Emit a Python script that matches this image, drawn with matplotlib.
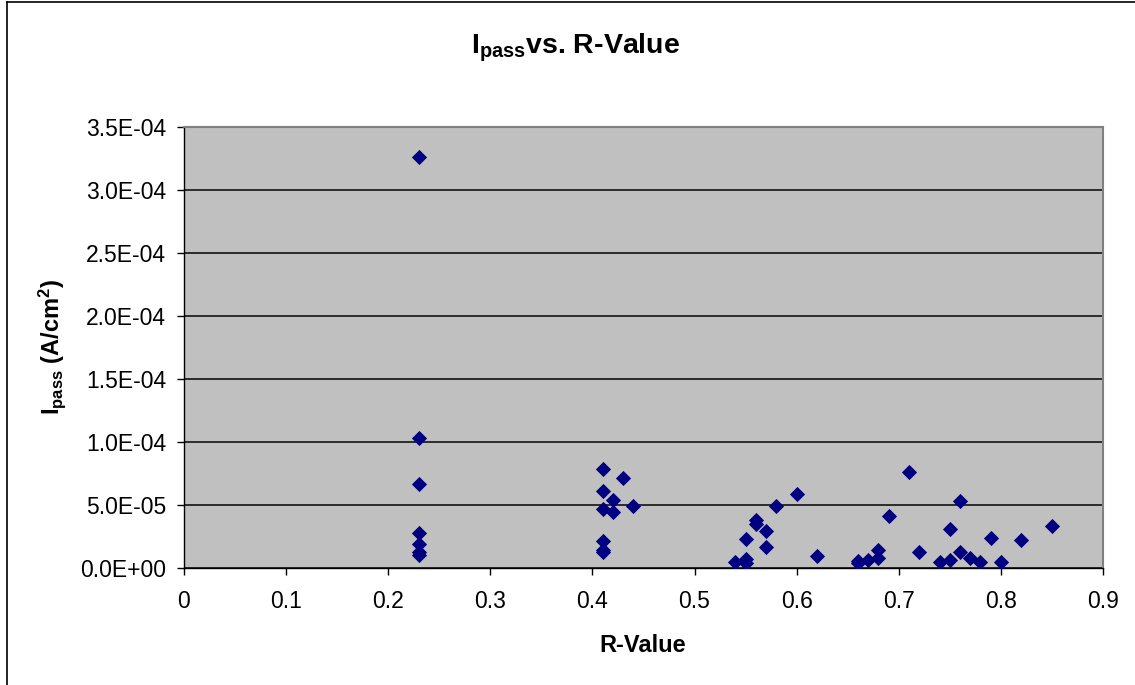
import matplotlib
matplotlib.use('Agg')
import matplotlib.pyplot as plt
from matplotlib.ticker import FuncFormatter, MultipleLocator
from matplotlib.lines import Line2D

plt.rcParams['font.family'] = ['Liberation Sans', 'DejaVu Sans']
plt.rcParams['mathtext.fontset'] = 'custom'
plt.rcParams['mathtext.rm'] = 'Liberation Sans'
plt.rcParams['mathtext.bf'] = 'Liberation Sans:bold'
plt.rcParams['mathtext.it'] = 'Liberation Sans:italic'

# R-value of each sample and its passivation current density (A/cm^2)
r_value = [0.23, 0.23, 0.23, 0.23, 0.23, 0.23, 0.23,
           0.41, 0.41, 0.41, 0.41, 0.41, 0.41,
           0.42, 0.42, 0.43, 0.44,
           0.54, 0.55, 0.55, 0.55, 0.56, 0.56, 0.57, 0.57, 0.58,
           0.60, 0.62, 0.66, 0.66, 0.67, 0.68, 0.68, 0.69,
           0.71, 0.72, 0.74, 0.75, 0.75, 0.76, 0.76, 0.77, 0.78,
           0.79, 0.80, 0.82, 0.85]
i_pass = [3.26e-4, 1.03e-4, 6.7e-5, 2.8e-5, 1.9e-5, 1.3e-5, 1.0e-5,
          7.85e-5, 6.13e-5, 4.67e-5, 2.15e-5, 1.4e-5, 1.3e-5,
          5.41e-5, 4.48e-5, 7.11e-5, 4.96e-5,
          5.0e-6, 7.0e-6, 4.0e-6, 2.28e-5, 3.82e-5, 3.5e-5, 2.97e-5, 1.65e-5, 4.96e-5,
          5.86e-5, 9.5e-6, 5.6e-6, 4.0e-6, 6.4e-6, 1.43e-5, 7.7e-6, 4.14e-5,
          7.58e-5, 1.25e-5, 5.0e-6, 6.4e-6, 3.1e-5, 5.28e-5, 1.25e-5, 8.2e-6, 5.0e-6,
          2.39e-5, 5.0e-6, 2.23e-5, 3.37e-5]

W, H = 1135, 685
fig = plt.figure(figsize=(W / 100, H / 100), dpi=100)
ax = fig.add_axes([184 / W, 1 - 568 / H, (1103 - 184) / W, (568 - 127) / H])

ax.set_facecolor('#C0C0C0')
ax.scatter(r_value, i_pass, marker='D', s=60, color='#000080', zorder=3,
           linewidths=0)

ax.set_xlim(0, 0.9)
ax.set_ylim(0, 3.5e-4)
ax.xaxis.set_major_locator(MultipleLocator(0.1))
ax.yaxis.set_major_locator(MultipleLocator(0.5e-4))
ax.xaxis.set_major_formatter(FuncFormatter(lambda v, p: '0' if abs(v) < 1e-9 else f'{v:.1f}'))
ax.yaxis.set_major_formatter(FuncFormatter(lambda v, p: f'{v:.1E}'))

ax.grid(axis='y', color='#202020', linewidth=1.3)
ax.set_axisbelow(True)
for side in ('top', 'right'):
    ax.spines[side].set_color('#808080')
    ax.spines[side].set_linewidth(1.5)
for side in ('left', 'bottom'):
    ax.spines[side].set_color('black')
    ax.spines[side].set_linewidth(1.0)

ax.tick_params(axis='both', direction='out', length=5, width=1, labelsize=16.5,
               color='black')
ax.tick_params(axis='y', pad=8)
ax.tick_params(axis='x', pad=11)

fig.text(576 / W, 1 - 48 / H, r'$\mathbf{I_{pass}}$vs. R-Value',
         ha='center', va='center', fontsize=20.5, fontweight='bold')
fig.text(643 / W, 1 - 645 / H, 'R-Value', ha='center', va='center',
         fontsize=17, fontweight='bold')
fig.text(52 / W, 1 - 347 / H, r'$\mathbf{I_{pass}}$ (A/cm$^\mathbf{2}$)',
         ha='center', va='center', rotation=90, fontsize=17, fontweight='bold')

# outer chart frame
fig.add_artist(Line2D([7 / W, 7 / W], [0, 1 - 2 / H], color='black', linewidth=1.2))
fig.add_artist(Line2D([7 / W, 1], [1 - 2 / H, 1 - 2 / H], color='black', linewidth=1.2))

fig.savefig('out.png', dpi=100)
